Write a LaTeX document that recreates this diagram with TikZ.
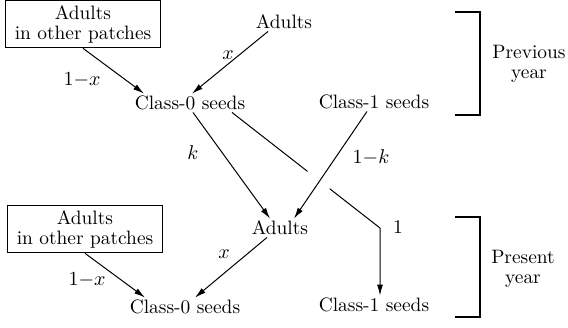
\documentclass[tikz,border=0pt]{standalone}
\usetikzlibrary{arrows.meta, calc}

\begin{document}
\begin{tikzpicture}[x=0.5pt, y=-0.5pt,
  font=\fontsize{9.7}{10}\selectfont,
  block/.style={rectangle, draw, line width=0.8pt, minimum width=77.5pt, minimum height=23.5pt, inner sep=1pt, align=center},
  stage/.style={inner sep=1pt},
  lbl/.style={inner sep=0pt},
  arrow/.style={-{Latex[length=5.5pt, width=3pt]}, line width=0.5pt},
  yearbrace/.style={line width=0.7pt}]
\useasboundingbox (0,0) rectangle (568,327);

% previous year
\node[block] (otherP) at (83,24) {Adults\\in other patches};
\node[stage] (adultsP) at (284,22) {Adults};
\node[stage] (c0P) at (190,103) {Class-0 seeds};
\node[stage] (c1P) at (374,102) {Class-1 seeds};

% present year
\node[block] (otherN) at (85,229) {Adults\\in other patches};
\node[stage] (adultsN) at (280,228) {Adults};
\node[stage] (c0N) at (185,307) {Class-0 seeds};
\node[stage] (c1N) at (374,305) {Class-1 seeds};

\draw[arrow] (otherP.south) -- ([xshift=-23pt]c0P.north);
\draw[arrow] ([xshift=-8pt]adultsP.south) -- ([xshift=1pt]c0P.north);
\draw[arrow] ([xshift=1.5pt]c0P.south) -- ([xshift=-5pt]adultsN.north);
\draw[arrow] ([xshift=-3.5pt]c1P.south) -- ([xshift=7pt]adultsN.north);
\coordinate (c0out) at ([xshift=21pt]c0P.south);
\coordinate (bend) at (380,228);
\draw[line width=0.5pt] (c0out) -- ($(c0out)!0.51!(bend)$);
\draw[arrow] ($(c0out)!0.66!(bend)$) -- (bend) -- (bend |- c1N.north);
\draw[arrow] (otherN.south) -- ([xshift=-20pt]c0N.north);
\draw[arrow] ([xshift=-6.5pt]adultsN.south) -- ([xshift=5pt]c0N.north);

% labels
\node[lbl] (lblA) at (82,80) {$1{-}x$};
\node[lbl] (lblB) at (228,55) {$x$};
\node[lbl] (lblC) at (193,153) {$k$};
\node[lbl] (lblD) at (371,157) {$1{-}k$};
\node[lbl] (lblE) at (398,227) {1};
\node[lbl] (lblF) at (87,280) {$1{-}x$};
\node[lbl] (lblG) at (224,254) {$x$};

% year brackets
\draw[yearbrace] (455,12) -- (480,12) -- (480,115) -- (455,115);
\draw[yearbrace] (455,217) -- (480,217) -- (480,317) -- (455,317);
\node[align=center] (prev) at (529,64) {Previous\\year};
\node[align=center] (pres) at (523,269) {Present\\year};
\end{tikzpicture}
\end{document}
